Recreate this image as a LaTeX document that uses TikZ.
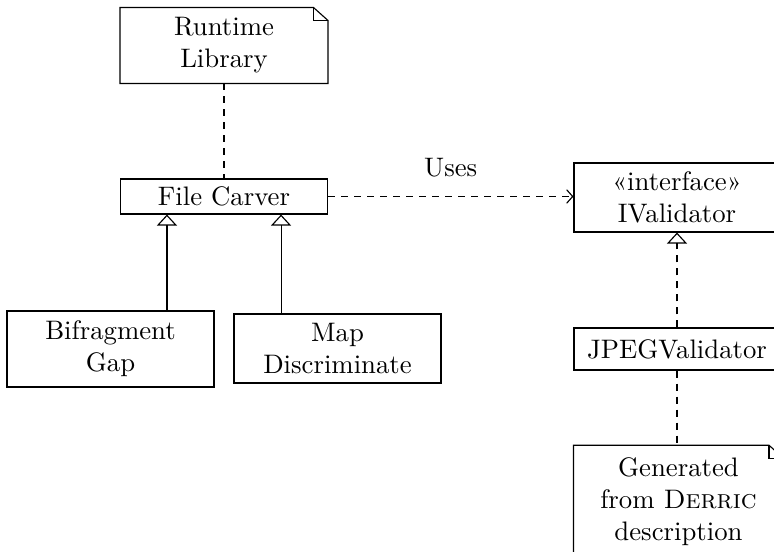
\documentclass[tikz,border=0pt]{standalone}
\usetikzlibrary{arrows.meta}

\tikzset{
  x=0.4pt, y=-0.4pt,
  every node/.style={font=\fontsize{10.7}{12.8}\selectfont, align=center, inner sep=0pt},
  umlbox/.style={draw, line width=0.45pt, minimum width=82.8pt},
  umlnote/.style={minimum width=82.8pt},
  dep/.style={line width=0.45pt, dash pattern=on 2.8pt off 2.4pt},
  gen/.style={line width=0.45pt, -{Triangle[open,width=8pt,length=4.4pt]}},
  real/.style={dep, -{Triangle[open,width=8pt,length=4.4pt]}},
  uses/.style={dep, -{Straight Barb[length=2.4pt,width=5.4pt]}},
}

% outline of a UML note with a folded corner
\newcommand\drawnote[1]{%
  \draw[line width=0.45pt]
    (#1.north west) -- ([xshift=-5.8pt]#1.north east)
    -- ([yshift=-5.2pt]#1.north east) -- (#1.south east)
    -- (#1.south west) -- cycle;
  \draw[line width=0.45pt]
    ([xshift=-5.8pt]#1.north east) -- ([xshift=-5.8pt,yshift=-5.2pt]#1.north east)
    -- ([yshift=-5.2pt]#1.north east);
}

\begin{document}
\begin{tikzpicture}
  \useasboundingbox (0,0) rectangle (774,552);
  \clip (0,0) rectangle (774,552);

  % left side: carver and its variants
  \node[umlnote, minimum height=30pt] (RL) at (224,45.5) {Runtime\\Library};
  \drawnote{RL}
  \node[umlbox, minimum height=14pt] (FC) at (224,196.5) {File Carver};
  \node[umlbox, minimum height=30.4pt] (BG) at (110.5,349) {Bifragment\\Gap};
  \node[umlbox, minimum height=27.6pt] (MD) at (337.5,348.5) {Map\\Discriminate};

  % right side: validator interface and implementation
  \node[umlbox, minimum height=27.6pt, minimum width=82.4pt] (IV) at (677,197.5)
    {«interface»\\IValidator};
  \node[umlbox, minimum height=16.8pt, minimum width=82.4pt] (JV) at (677,349) {JPEGValidator};
  \node[umlnote, minimum height=45pt, minimum width=83.6pt] (GD) at (678.5,502)
    {Generated\\from \textsc{Derric}\\description};
  \drawnote{GD}

  % connectors
  \draw[dep] (RL.south) -- (FC.north);
  \coordinate (fcA) at ([xshift=18.8pt]FC.south west);
  \coordinate (fcB) at ([xshift=-18.8pt]FC.south east);
  \draw[gen] (BG.north -| fcA) -- (fcA);
  \draw[gen] (MD.north -| fcB) -- (fcB);
  \draw[uses] (FC.east) -- (FC.east -| IV.west)
    node[midway, yshift=11.4pt] (uselbl) {Uses};
  \draw[real] (JV.north) -- (IV.south);
  \draw[dep] (JV.south) -- (JV.south |- GD.north);
\end{tikzpicture}
\end{document}
